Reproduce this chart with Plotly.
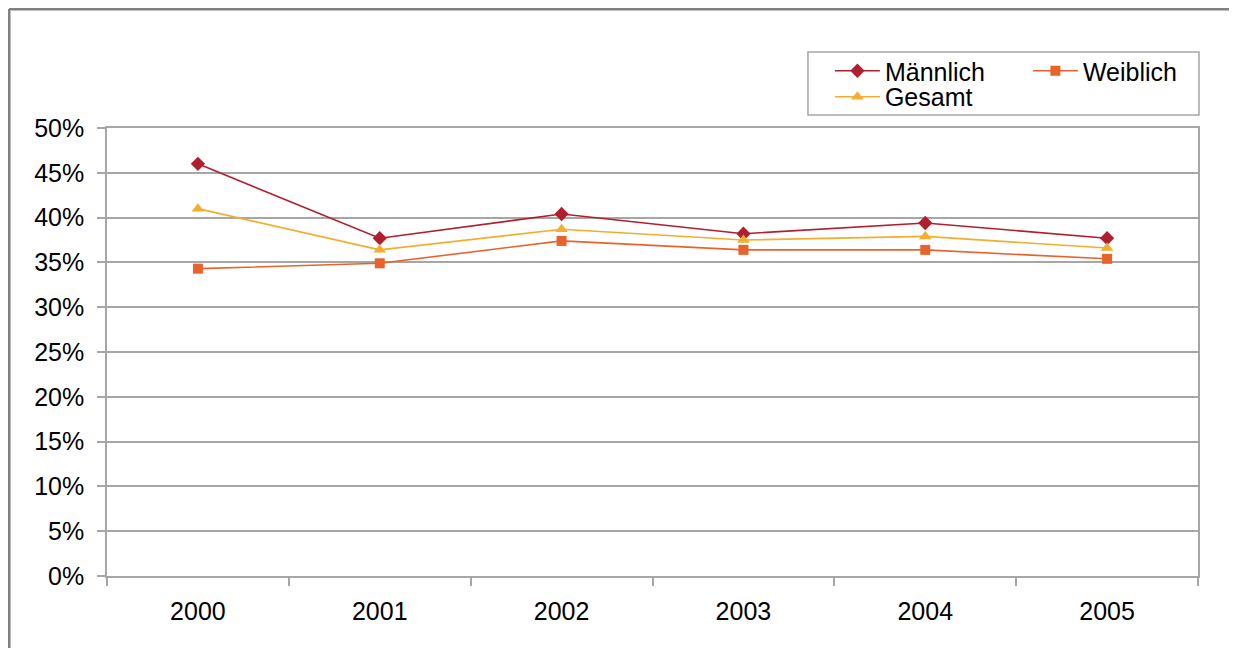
import plotly.graph_objects as go

years = ["2000", "2001", "2002", "2003", "2004", "2005"]
maennlich = [0.460, 0.377, 0.404, 0.382, 0.394, 0.377]
weiblich = [0.343, 0.349, 0.374, 0.364, 0.364, 0.354]
gesamt = [0.410, 0.364, 0.387, 0.375, 0.379, 0.366]
y_ticks = [0, 0.05, 0.10, 0.15, 0.20, 0.25, 0.30, 0.35, 0.40, 0.45, 0.50]

FONT = "Liberation Sans, Arial, sans-serif"
GRID = "#a6a6a6"
FS = 25

fig = go.Figure()
fig.add_trace(go.Scatter(x=years, y=maennlich, name="Männlich", mode="lines+markers",
                         legend="legend",
                         line=dict(color="#b01f2e", width=1.6),
                         marker=dict(symbol="diamond", size=11, color="#b01f2e")))
fig.add_trace(go.Scatter(x=years, y=weiblich, name="Weiblich", mode="lines+markers",
                         legend="legend",
                         line=dict(color="#e8632b", width=1.6),
                         marker=dict(symbol="square", size=10, color="#e8632b")))
fig.add_trace(go.Scatter(x=years, y=gesamt, name="Gesamt", mode="lines+markers",
                         legend="legend2",
                         line=dict(color="#f2ae2c", width=1.6),
                         marker=dict(symbol="triangle-up", size=11, color="#f2ae2c")))

leg_common = dict(orientation="h", xanchor="left", yanchor="middle",
                  borderwidth=0, bgcolor="rgba(0,0,0,0)",
                  entrywidth=138, entrywidthmode="pixels", itemwidth=45,
                  font=dict(family=FONT, size=FS, color="black"),
                  tracegroupgap=0)

fig.update_layout(
    width=1229, height=640,
    margin=dict(l=99, r=39, t=120, b=72, autoexpand=False),
    paper_bgcolor="white", plot_bgcolor="white",
    font=dict(family=FONT, size=FS, color="black"),
    showlegend=True,
    legend=dict(x=0.6626, y=1.1272, **leg_common),
    legend2=dict(x=0.6626, y=1.0692, **leg_common),
    xaxis=dict(type="category", range=[-0.5, 5.5], showgrid=False,
               showline=True, linecolor=GRID, linewidth=1.5, mirror=True,
               ticks="outside", ticklen=8, tickcolor=GRID, tickwidth=1.5,
               tickson="boundaries", ticklabelstandoff=12,
               tickfont=dict(family=FONT, size=FS, color="black")),
    yaxis=dict(range=[0, 0.5], tickvals=y_ticks, tickformat=".0%",
               showgrid=True, gridcolor=GRID, gridwidth=1.5,
               showline=True, linecolor=GRID, linewidth=1.5, mirror=True,
               ticks="outside", ticklen=8, tickcolor=GRID, tickwidth=1.5,
               ticklabelstandoff=8, zeroline=False,
               tickfont=dict(family=FONT, size=FS, color="black")),
)

# legend frame
fig.add_shape(type="rect", xref="paper", yref="paper",
              x0=0.6425, x1=1.0009, y0=1.029, y1=1.1696,
              line=dict(color=GRID, width=1.5), fillcolor="rgba(0,0,0,0)")

# outer chart frame (top and left edges visible)
fig.add_shape(type="line", xref="paper", yref="paper",
              x0=-0.0898, x1=1.1, y0=1.2656, y1=1.2656,
              line=dict(color="#808080", width=3))
fig.add_shape(type="line", xref="paper", yref="paper",
              x0=-0.0898, x1=-0.0898, y0=-0.2, y1=1.2656,
              line=dict(color="#808080", width=3))

fig.write_html("out.html")
